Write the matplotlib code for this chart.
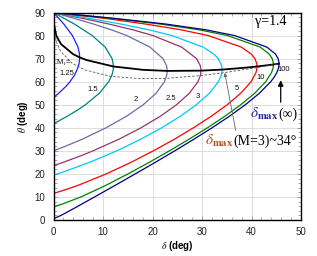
import numpy as np
import matplotlib
matplotlib.use("Agg")
import matplotlib.pyplot as plt

plt.rcParams['font.family'] = ['Liberation Sans', 'DejaVu Sans']
plt.rcParams['mathtext.fontset'] = 'stix'

# shock angle theta (deg) vs deflection delta (deg)
theta_m125 = [53.13, 55, 58, 60, 63, 66, 68, 70, 72, 75, 80, 85, 90]
delta_m125 = [0, 1.06, 2.53, 3.33, 4.29, 4.92, 5.17, 5.28, 5.25, 4.95, 3.82, 2.08, 0]

theta_m15 = [41.81, 43, 45, 48, 50, 55, 60, 63, 65, 67, 70, 75, 80, 85, 90]
delta_m15 = [0, 1.08, 2.78, 5.08, 6.45, 9.26, 11.16, 11.82, 12.06, 12.11, 11.84, 10.43, 7.82, 4.21, 0]

theta_m2 = [30, 32, 35, 40, 45, 50, 55, 60, 63, 65, 67, 70, 75, 80, 82.5, 85, 87.5, 90]
delta_m2 = [0, 2.42, 5.75, 10.62, 14.74, 18.13, 20.73, 22.41, 22.90, 22.97, 22.82, 22.11,
            19.49, 14.81, 11.67, 8.08, 4.13, 0]

theta_m25 = [23.58, 25, 28, 30, 35, 40, 45, 50, 55, 60, 63, 65, 67, 70, 75, 80, 82.5, 85, 87.5, 90]
delta_m25 = [0, 1.93, 5.69, 7.99, 13.17, 17.68, 21.57, 24.85, 27.44, 29.18, 29.71, 29.80,
             29.64, 28.89, 25.88, 20.10, 16.03, 11.21, 5.77, 0]

theta_m3 = [19.47, 21, 25, 30, 35, 40, 45, 50, 55, 60, 63, 65, 67, 70, 72, 75, 80, 82.5, 85, 87.5, 90]
delta_m3 = [0, 2.18, 7.28, 12.77, 17.58, 21.85, 25.62, 28.86, 31.49, 33.32, 33.93, 34.07,
            33.97, 33.28, 32.38, 30.22, 23.93, 19.28, 13.60, 7.05, 0]

theta_m5 = [11.54, 13, 15, 20, 25, 30, 35, 40, 45, 50, 55, 60, 64, 66, 68, 70, 72, 75, 80,
            82.5, 85, 87.5, 90]
delta_m5 = [0, 2.21, 4.91, 10.66, 15.64, 20.17, 24.38, 28.27, 31.86, 35.09, 37.83, 39.92,
            40.91, 41.11, 41.05, 40.67, 39.94, 37.93, 31.26, 25.78, 18.60, 10.21, 0]

theta_m10 = [5.74, 7, 10, 15, 20, 25, 30, 35, 40, 45, 50, 55, 60, 64, 66, 68, 70, 72, 75, 80,
             82.5, 85, 87.5, 90]
delta_m10 = [0, 1.89, 5.53, 10.54, 15.05, 19.32, 23.41, 27.34, 31.09, 34.61, 37.83, 40.65,
             42.88, 44.05, 44.36, 44.42, 44.18, 43.57, 41.77, 35.17, 29.43, 21.55, 11.51, 0]

theta_m100 = [0.57, 2, 5, 10, 15, 20, 25, 30, 35, 40, 45, 50, 55, 60, 62, 64, 66, 68, 70, 72,
              75, 80, 82.5, 85, 87.5, 90]
delta_m100 = [0, 1.53, 4.11, 8.29, 12.42, 16.51, 20.55, 24.49, 28.33, 32.03, 35.53, 38.75,
              41.60, 43.89, 44.59, 45.12, 45.47, 45.57, 45.38, 44.83, 43.10, 36.60, 30.79,
              22.69, 12.17, 0]

# locus of max deflection and of sonic downstream flow
theta_max = [90, 85.36, 79.93, 76.30, 71.96, 70.55, 69.39, 66.59, 65.13, 64.67, 64.79, 65.24,
             66.07, 66.59, 67.45, 67.79]
delta_max = [0, 0.05, 0.56, 1.52, 3.94, 5.28, 6.66, 12.11, 18.12, 22.97, 29.80, 34.07,
             38.77, 41.12, 44.43, 45.58]

theta_son = [90, 84.32, 77.68, 73.25, 68.07, 65.12, 62.25, 61.30, 61.44, 62.63, 63.77, 66.09,
             67.35, 67.79]
delta_son = [0, 0.05, 0.515, 1.41, 3.70, 6.32, 11.69, 17.76, 22.71, 29.67, 34.00, 41.11,
             44.43, 45.58]

curves = [
    (delta_m125, theta_m125, '#1f1fff'),
    (delta_m15, theta_m15, '#008080'),
    (delta_m2, theta_m2, '#6b6ba8'),
    (delta_m25, theta_m25, '#993366'),
    (delta_m3, theta_m3, '#00c8ff'),
    (delta_m5, theta_m5, '#ff0000'),
    (delta_m10, theta_m10, '#008000'),
    (delta_m100, theta_m100, '#000080'),
]

mach_labels = ['1.25', '1.5', '2', '2.5', '3', '5', '10', '100']
label_x = [2.7, 8.0, 16.7, 23.7, 29.2, 37.0, 41.8, 46.6]
label_y = [63.7, 56.6, 52.2, 52.5, 53.6, 57.0, 61.8, 65.3]

fig = plt.figure(figsize=(3.17, 2.56), dpi=100)
ax = fig.add_axes([0.1688, 0.1406, 0.7808, 0.8105])

for d, t, col in curves:
    ax.plot(d, t, color=col, lw=0.9, solid_joinstyle='round')

ax.plot(delta_max, theta_max, color='black', lw=1.3)
ax.plot(delta_son, theta_son, color='#555555', lw=0.6, dashes=(3, 2))

for lab, x, y in zip(mach_labels, label_x, label_y):
    ax.text(x, y, lab, fontsize=5.5, ha='center', va='center', color='#111111')
ax.text(2.1, 68.3, 'M$_1$=', fontsize=5.5, ha='center', va='center', color='#111111')

ax.text(40.7, 84.6, 'γ=1.4', fontsize=10, family='Liberation Serif', va='baseline')

# delta_max(inf) label and arrow
ax.text(45.35, 44.2, r'$\delta_{\mathbf{max}}$', fontsize=11, color='#1a2a9a',
        ha='right', va='baseline')
ax.text(45.35, 44.2, '(∞)', fontsize=10, family=['Liberation Serif', 'DejaVu Serif'],
        ha='left', va='baseline')
ax.annotate('', xy=(45.9, 61.8), xytext=(45.9, 49.9),
            arrowprops=dict(arrowstyle='-|>', color='black', lw=0.9, mutation_scale=8))

# delta_max(M=3) label and pointer
ax.text(36.3, 32.5, r'$\delta_{\mathbf{max}}$', fontsize=11, color='#b0502a',
        ha='right', va='baseline')
ax.text(36.3, 32.5, '(M=3)~34°', fontsize=10, family='Liberation Serif',
        ha='left', va='baseline')
ax.annotate('', xy=(34.5, 65.0), xytext=(36.9, 37.7),
            arrowprops=dict(arrowstyle='-|>', color='#666666', lw=0.6, mutation_scale=5))

ax.set_xlim(0, 50)
ax.set_ylim(0, 90)
ax.set_xticks(np.arange(0, 51, 10))
ax.set_yticks(np.arange(0, 91, 10))
ax.set_xticks(np.arange(0, 51, 2), minor=True)
ax.set_yticks(np.arange(0, 91, 2), minor=True)
ax.grid(True, which='major', color='#d8d8d8', lw=0.6)
ax.set_axisbelow(True)
ax.tick_params(which='both', direction='in', top=True, right=True, labelsize=7,
               labelcolor='#222222')
ax.tick_params(axis='x', which='both', pad=5)
ax.tick_params(axis='y', which='both', pad=6)
ax.tick_params(which='major', length=3, width=0.5, color='#888888')
ax.tick_params(which='minor', length=2, width=0.5, color='#888888')
for sp in ax.spines.values():
    sp.set_linewidth(1.0)

ax.set_xlabel(r'$\delta$ (deg)', fontsize=7, fontweight='bold', labelpad=1.5)
ax.set_ylabel(r'$\theta$ (deg)', fontsize=7, fontweight='bold', labelpad=3)

fig.savefig('out.png', dpi=100)
